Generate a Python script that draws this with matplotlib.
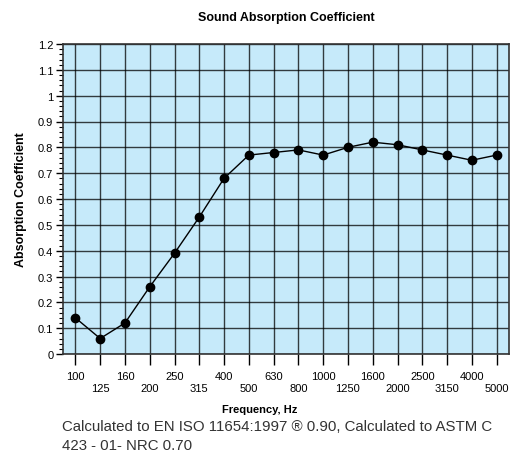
import numpy as np
import matplotlib
matplotlib.use('Agg')
import matplotlib.pyplot as plt
from matplotlib.ticker import MultipleLocator

plt.rcParams['font.family'] = ['Liberation Sans', 'DejaVu Sans']

# data
freqs = ['100', '125', '160', '200', '250', '315', '400', '500', '630',
         '800', '1000', '1250', '1600', '2000', '2500', '3150', '4000', '5000']
alpha = [0.14, 0.06, 0.12, 0.26, 0.39, 0.53, 0.68, 0.77, 0.78,
         0.79, 0.77, 0.80, 0.82, 0.81, 0.79, 0.77, 0.75, 0.77]
y_ticks = [0, 0.1, 0.2, 0.3, 0.4, 0.5, 0.6, 0.7, 0.8, 0.9, 1.0, 1.1, 1.2]
y_labels = ['0', '0.1', '0.2', '0.3', '0.4', '0.5', '0.6', '0.7', '0.8',
            '0.9', '1', '1.1', '1.2']

fig = plt.figure(figsize=(5.11, 4.52), dpi=100)
ax = fig.add_axes([63/511, 97/452, 446/511, 310/452])
ax.set_facecolor('#c6eafa')

x = np.arange(len(freqs))
ax.plot(x, alpha, color='black', linewidth=1, marker='o', markersize=6, zorder=3)

ax.set_xlim(-0.5, len(freqs) - 0.5)
ax.set_ylim(0, 1.2)

# alternate tick labels on two rows
lbls = [f if i % 2 == 0 else '\n' + f for i, f in enumerate(freqs)]
ax.set_xticks(x)
ax.set_xticklabels(lbls, fontsize=8, linespacing=1.35)
ax.set_yticks(y_ticks)
ax.set_yticklabels(y_labels, fontsize=8)
ax.yaxis.set_minor_locator(MultipleLocator(0.02))
ax.tick_params(axis='x', direction='out', length=8, width=1, pad=4)
ax.tick_params(axis='y', which='major', direction='out', length=5, width=1, pad=2)
ax.tick_params(axis='y', which='minor', direction='out', length=3, width=0.8)

ax.grid(True, which='major', color='black', linewidth=1, alpha=0.75)
ax.set_axisbelow(True)
for s in ax.spines.values():
    s.set_linewidth(1.2)
    s.set_color('#333333')

ax.set_ylabel('Absorption Coefficient', fontsize=9, fontweight='bold', labelpad=8)
fig.text(260/511, 1 - 410/452, 'Frequency, Hz', fontsize=8,
         fontweight='bold', ha='center', va='center')
fig.text(286/511, 1 - 18/452, 'Sound Absorption Coefficient', fontsize=9,
         fontweight='bold', ha='center', va='center')
fig.text(62/511, 1 - 427/452, 'Calculated to EN ISO 11654:1997 \u00ae 0.90, Calculated to ASTM C',
         fontsize=10.8, ha='left', va='center', color='#333333')
fig.text(62/511, 1 - 446/452, '423 - 01- NRC 0.70',
         fontsize=10.8, ha='left', va='center', color='#333333')

fig.savefig('out.png', dpi=100)
